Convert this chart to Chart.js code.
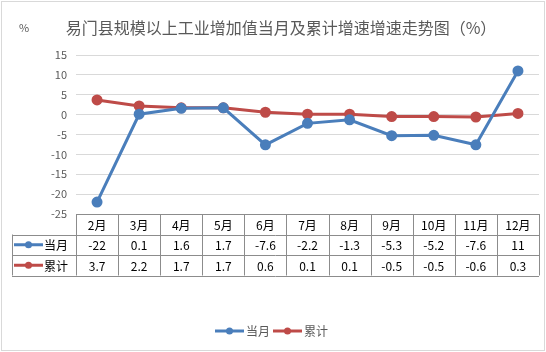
<!DOCTYPE html>
<html lang="zh">
<head>
    <meta charset="UTF-8">
    <title>易门县规模以上工业增加值当月及累计增速走势图</title>
    <script src="https://cdn.jsdelivr.net/npm/chart.js"></script>
    <style>
        body { margin: 0; background: #fff; }
    </style>
</head>
<body>
    <canvas id="growthChart" width="546" height="352"></canvas>
    <script>
        const months = ['2月', '3月', '4月', '5月', '6月', '7月', '8月', '9月', '10月', '11月', '12月'];
        const monthly = [-22, 0.1, 1.6, 1.7, -7.6, -2.2, -1.3, -5.3, -5.2, -7.6, 11];
        const cumulative = [3.7, 2.2, 1.7, 1.7, 0.6, 0.1, 0.1, -0.5, -0.5, -0.6, 0.3];
        const seriesNames = ['当月', '累计'];
        const colors = ['#4a7ebb', '#be4b48'];

        const cjk = '"Noto Sans CJK SC", "DejaVu Sans", sans-serif';
        const tableFont = '12px ' + cjk;

        // little line-with-dot symbol used in table and legend
        function drawSymbol(ctx, x, y, color) {
            ctx.save();
            ctx.strokeStyle = color;
            ctx.lineWidth = 3;
            ctx.beginPath();
            ctx.moveTo(x, y);
            ctx.lineTo(x + 29, y);
            ctx.stroke();
            ctx.fillStyle = color;
            ctx.beginPath();
            ctx.arc(x + 14.5, y, 3.5, 0, Math.PI * 2);
            ctx.fill();
            ctx.restore();
        }

        const extras = {
            id: 'extras',
            afterDraw(chart) {
                const ctx = chart.ctx;
                const ca = chart.chartArea;
                const x = chart.scales.x;
                const n = months.length;
                const colW = (ca.right - ca.left) / n;
                const rowH = 20.5;
                const top = ca.bottom;
                const leftEdge = 12;

                ctx.save();
                // outer frame
                ctx.strokeStyle = '#d9d9d9';
                ctx.lineWidth = 1;
                ctx.strokeRect(1.5, 1.5, 543, 349);

                // title and unit
                ctx.fillStyle = '#595959';
                ctx.textBaseline = 'middle';
                ctx.textAlign = 'center';
                ctx.font = '16px ' + cjk;
                ctx.fillText('易门县规模以上工业增加值当月及累计增速增速走势图（%）', 281, 28);
                ctx.font = '11px ' + cjk;
                ctx.fillText('%', 24, 28);

                // data table grid
                ctx.strokeStyle = '#8c8c8c';
                ctx.lineWidth = 1;
                ctx.beginPath();
                ctx.moveTo(ca.left, top + 0.5);
                ctx.lineTo(ca.right, top + 0.5);
                for (let r = 1; r <= 3; r++) {
                    const yy = Math.round(top + r * rowH) + 0.5;
                    ctx.moveTo(leftEdge, yy);
                    ctx.lineTo(ca.right, yy);
                }
                for (let c = 0; c <= n; c++) {
                    const xx = Math.round(ca.left + c * colW) + 0.5;
                    ctx.moveTo(xx, top);
                    ctx.lineTo(xx, top + 3 * rowH);
                }
                ctx.moveTo(leftEdge + 0.5, top + rowH);
                ctx.lineTo(leftEdge + 0.5, top + 3 * rowH);
                ctx.stroke();

                ctx.fillStyle = '#000';
                ctx.font = tableFont;
                ctx.textAlign = 'center';
                const rows = [monthly, cumulative];
                months.forEach((m, i) => {
                    const cx = x.getPixelForValue(i);
                    ctx.fillText(m, cx, top + rowH / 2 + 1);
                    rows.forEach((vals, r) => {
                        ctx.fillText(String(vals[i]), cx, top + rowH * (r + 1.5) + 1);
                    });
                });
                rows.forEach((vals, r) => {
                    const yy = top + rowH * (r + 1.5);
                    drawSymbol(ctx, leftEdge + 2, yy, colors[r]);
                    ctx.textAlign = 'left';
                    ctx.fillStyle = '#000';
                    ctx.fillText(seriesNames[r], leftEdge + 32, yy + 1);
                });

                // legend
                ctx.font = '12px ' + cjk;
                ctx.fillStyle = '#595959';
                ctx.textAlign = 'left';
                let lx = 215;
                seriesNames.forEach((name, i) => {
                    drawSymbol(ctx, lx, 331, colors[i]);
                    ctx.fillText(name, lx + 31, 331);
                    lx += 31 + ctx.measureText(name).width + 3;
                });
                ctx.restore();
            }
        };

        new Chart(document.getElementById('growthChart'), {
            type: 'line',
            data: {
                labels: months,
                datasets: [
                    {
                        label: seriesNames[0],
                        data: monthly,
                        borderColor: colors[0],
                        backgroundColor: colors[0],
                        borderWidth: 3,
                        pointRadius: 4,
                        pointHoverRadius: 4,
                        tension: 0
                    },
                    {
                        label: seriesNames[1],
                        data: cumulative,
                        borderColor: colors[1],
                        backgroundColor: colors[1],
                        borderWidth: 3,
                        pointRadius: 4,
                        pointHoverRadius: 4,
                        tension: 0
                    }
                ]
            },
            options: {
                responsive: false,
                animation: false,
                layout: { padding: { top: 55, left: 0, right: 3, bottom: 76 } },
                plugins: {
                    legend: { display: false },
                    title: { display: false },
                    tooltip: { enabled: false }
                },
                scales: {
                    x: {
                        offset: true,
                        grid: { display: false },
                        border: { display: false },
                        ticks: { display: false },
                        afterFit: axis => { axis.height = 62; }
                    },
                    y: {
                        min: -25,
                        max: 15,
                        ticks: {
                            stepSize: 5,
                            padding: 9,
                            color: '#595959',
                            font: { size: 11, family: cjk }
                        },
                        grid: { color: '#d9d9d9', drawTicks: false },
                        border: { display: false },
                        afterFit: axis => { axis.width = 76; }
                    }
                }
            },
            plugins: [extras]
        });
    </script>
</body>
</html>
